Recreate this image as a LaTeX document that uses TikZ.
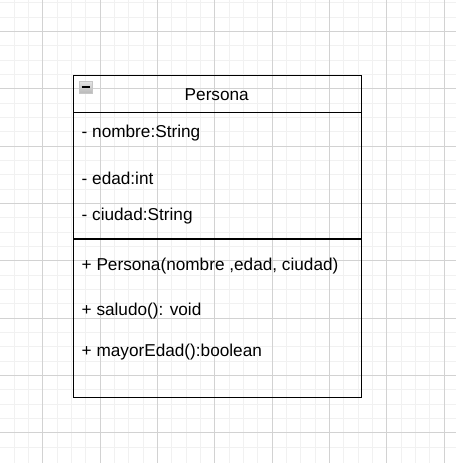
\documentclass[tikz,border=0pt]{standalone}
\usepackage{fontspec}
\setmainfont{Liberation Sans}
\usetikzlibrary{positioning}
\definecolor{minorGray}{HTML}{F1F1F1}
\definecolor{majorGray}{HTML}{D2D2D2}
\newcommand{\backGrid}{%%
  %% The minor lines of the grid.
  \foreach \k in {0,...,31} {
    \draw[minorStyle] ({\xg+\k*\gs},0) -- ({\xg+\k*\gs},463);
    \draw[minorStyle] (0,{\yg+\k*\gs}) -- (456,{\yg+\k*\gs});
  }
  %% The major lines of the grid.
  \foreach \k in {0,...,7} {
    \draw[majorStyle] ({42.7+\k*4*\gs},0) -- ({42.7+\k*4*\gs},463);
    \draw[majorStyle] (0,{31.3+\k*4*\gs}) -- (456,{31.3+\k*4*\gs});
  }
}
\newcommand{\foldIcon}{%%
  %% The small box that folds the class.
  \draw[iconStyle] (79,81) rectangle (92,93);
  \draw[black,line width=1.6pt] (81.5,87) -- (89.5,87);
}

\begin{document}
\begin{tikzpicture}[x=1pt,y=-1pt,%%
  minorStyle/.style={minorGray,line width=0.7pt},%%
  majorStyle/.style={majorGray,line width=0.7pt},%%
  lineStyle/.style={-,line width=1.4pt},%%
  iconStyle/.style={draw=gray!45,line width=0.8pt,top color=gray!20,bottom color=gray!55},%%
  memberStyle/.style={anchor=base west,inner sep=0pt,font=\fontsize{17.2pt}{20pt}\selectfont},%%
]
\useasboundingbox (0,0) rectangle (456,463);
%%
\pgfmathsetmacro{\gs}{14.333}
\pgfmathsetmacro{\xg}{-0.3}
\pgfmathsetmacro{\yg}{2.64}
%%
\backGrid
%% The class box.
\node[draw,lineStyle,anchor=north west,inner sep=0pt,minimum width=287.5pt,minimum height=322pt] (persona) at (73,75) {};
\coordinate (headLeft) at (73,112.3);
\coordinate (headRight) at (360.5,112.3);
\coordinate (attrLeft) at (73,239);
\coordinate (attrRight) at (360.5,239);
\draw[lineStyle] (headLeft) -- (headRight);
\draw[lineStyle] (attrLeft) -- (attrRight);
\foldIcon
%% The name of the class.
\node[memberStyle,anchor=base] (title) at (216.75,100.3) {Persona};
%% The attributes.
\node[memberStyle] (nombre) at (81.5,137.3) {- nombre:String};
\node[memberStyle] (edad) at (81.5,184) {- edad:int};
\node[memberStyle] (ciudad) at (81.5,220.7) {- ciudad:String};
%% The methods.
\node[memberStyle] (constructor) at (81.5,270.7) {+ Persona(nombre ,edad, ciudad)};
\node[memberStyle] (saludo) at (81.5,315.7) {+ saludo(): void};
\node[memberStyle] (mayorEdad) at (81.5,356) {+ mayorEdad():boolean};
\end{tikzpicture}
\end{document}
